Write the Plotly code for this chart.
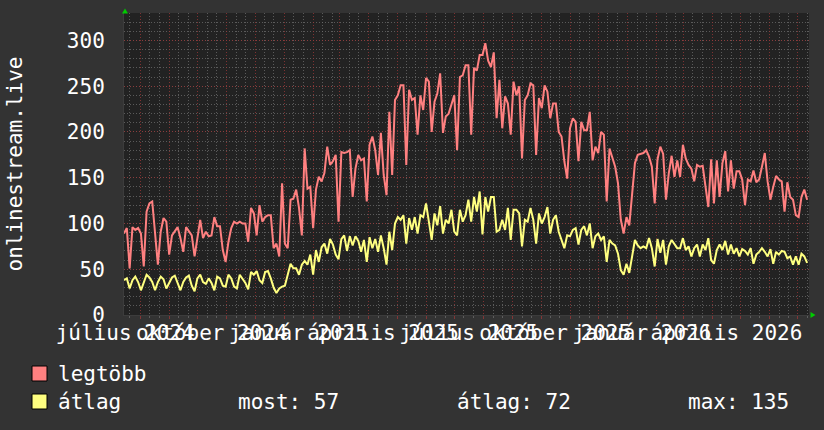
import pandas as pd
import plotly.graph_objects as go

# ---------------- data ----------------
start_date = "2024-07-14 17:00"
end_date = "2026-07-12 17:00"
step = "3D"

legtobb = [89, 95, 51, 96, 93, 95, 89, 53, 113, 122, 124, 87, 55, 91, 106, 102, 66, 87, 91, 96, 84, 69, 96, 91, 87, 64, 87, 104, 84, 91, 86,
           87, 107, 97, 97, 71, 58, 80, 95, 102, 100, 102, 100, 100, 80, 117, 111, 87, 120, 102, 107, 109, 109, 73, 78, 64, 144, 78, 73, 126, 127,
           137, 117, 87, 182, 138, 140, 95, 137, 151, 146, 155, 184, 164, 168, 175, 102, 178, 177, 178, 180, 129, 160, 175, 169, 171, 124, 186, 195, 180, 153, 199,
           153, 131, 222, 153, 235, 240, 251, 251, 164, 246, 235, 237, 197, 240, 224, 259, 255, 200, 233, 242, 264, 199, 217, 220, 230, 240, 180, 260, 262, 273,
           273, 197, 270, 267, 284, 284, 297, 278, 271, 287, 215, 257, 204, 239, 231, 197, 255, 240, 250, 171, 235, 240, 253, 251, 175, 237, 226, 251, 244, 215, 231,
           231, 200, 195, 168, 149, 204, 215, 211, 168, 211, 202, 202, 222, 169, 184, 177, 200, 197, 124, 182, 171, 162, 144, 104, 89, 107, 98, 135, 166, 175, 176,
           177, 180, 173, 162, 122, 170, 184, 176, 126, 155, 174, 151, 169, 151, 186, 171, 164, 160, 146, 164, 162, 163, 140, 118, 170, 122, 169, 129, 166, 179,
           135, 169, 138, 157, 157, 148, 120, 148, 146, 158, 145, 148, 162, 177, 146, 126, 140, 152, 148, 146, 113, 145, 129, 126, 109, 107, 129, 137, 126]

atlag = [38, 40, 29, 38, 42, 36, 27, 36, 44, 41, 36, 27, 36, 42, 39, 29, 35, 41, 43, 36, 27, 36, 41, 43, 32, 26, 40, 44, 36, 34, 40,
         35, 27, 42, 40, 32, 31, 44, 40, 31, 29, 44, 40, 35, 28, 47, 44, 48, 38, 35, 47, 48, 40, 30, 24, 29, 31, 32, 44, 56, 51,
         51, 44, 55, 59, 55, 66, 44, 71, 58, 74, 78, 67, 83, 77, 66, 61, 83, 87, 70, 86, 76, 86, 81, 69, 82, 58, 85, 73, 83, 69, 87,
         73, 55, 91, 71, 100, 107, 104, 109, 78, 106, 93, 107, 89, 109, 107, 122, 102, 82, 111, 98, 119, 89, 104, 100, 115, 91, 87, 115, 102, 109,
         126, 102, 129, 113, 135, 88, 129, 113, 129, 129, 91, 93, 104, 93, 117, 82, 115, 115, 111, 75, 104, 102, 117, 104, 78, 111, 100, 107, 118, 89, 104,
         109, 91, 82, 73, 87, 86, 93, 95, 77, 93, 97, 87, 100, 73, 86, 89, 82, 86, 58, 82, 78, 76, 67, 49, 44, 56, 46, 64, 82, 76, 73,
         75, 73, 84, 73, 53, 83, 68, 82, 55, 75, 82, 77, 73, 73, 84, 71, 75, 64, 73, 77, 64, 77, 71, 84, 60, 56, 71, 77, 71, 81,
         66, 77, 67, 73, 64, 72, 70, 66, 73, 56, 66, 69, 73, 69, 64, 72, 56, 69, 66, 70, 69, 62, 64, 55, 64, 55, 67, 64, 57]

label_dates = ["2024-07-16", "2024-10-16", "2025-01-16", "2025-04-16",
               "2025-07-16", "2025-10-16", "2026-01-16", "2026-04-16"]
label_text = ["július 2024", "október 2024", "január 2025", "április 2025",
              "július 2025", "október 2025", "január 2026", "április 2026"]
y_ticks = [0, 50, 100, 150, 200, 250, 300]
y_title = "onlinestream.live"
legend_names = ["legtöbb", "átlag"]
stats_text = ["most: 57", "átlag: 72", "max: 135"]

# ---------------- styling ----------------
FONT = "DejaVu Sans Mono"
BACK = "#333333"
CANVAS = "#222222"
GRID = "rgba(110,110,110,0.75)"
MGRID = "rgba(150,55,55,0.8)"
AXIS = "#3c3c3c"
RED = "#ff8080"
YELLOW = "#ffff80"
ARROW = "#00cc00"
W, H = 824, 430
L, R, T, B = 124, 809, 13, 315


def px(x):
    return (x - L) / (R - L)


def py(y):
    return (B - y) / (B - T)


dates = pd.date_range(start_date, periods=len(legtobb), freq=step)
month_starts = pd.date_range("2024-08-01", "2026-07-01", freq="MS")
minor_vals = []
for m in pd.date_range("2024-07-01", "2026-07-01", freq="MS"):
    for d in (10, 20):
        minor_vals.append(m + pd.Timedelta(days=d))

fig = go.Figure()
fig.add_trace(go.Scatter(x=dates, y=atlag, mode="lines", name=legend_names[1],
                         line=dict(color=YELLOW, width=2), xaxis="x", yaxis="y",
                         showlegend=False, hoverinfo="skip"))
fig.add_trace(go.Scatter(x=dates, y=legtobb, mode="lines", name=legend_names[0],
                         line=dict(color=RED, width=2), xaxis="x2", yaxis="y",
                         showlegend=False, hoverinfo="skip"))

dash = "1px,2px"
fig.update_layout(
    width=W, height=H,
    margin=dict(l=L, r=W - R, t=T, b=H - B),
    paper_bgcolor=BACK, plot_bgcolor=CANVAS,
    font=dict(family=FONT, size=21, color="white"),
    showlegend=False,
    xaxis=dict(type="date", range=[start_date, end_date],
               tickmode="array", tickvals=list(month_starts), showticklabels=False,
               showgrid=True, gridcolor=MGRID, griddash=dash, gridwidth=1,
               ticks="outside", ticklen=3, tickcolor=MGRID,
               showline=True, linecolor=AXIS, zeroline=False,
               minor=dict(tickmode="array", tickvals=minor_vals, showgrid=True,
                          gridcolor=GRID, griddash=dash, gridwidth=1,
                          ticks="outside", ticklen=2, tickcolor=GRID)),
    xaxis2=dict(type="date", range=[start_date, end_date], overlaying="x", matches="x",
                side="bottom", tickmode="array", tickvals=label_dates, ticktext=label_text,
                tickangle=0, showgrid=False, ticks="", showline=False, zeroline=False,
                ticklabelstandoff=3,
                tickfont=dict(family=FONT, size=21, color="white")),
    yaxis=dict(range=[0, 330], tickmode="array", tickvals=y_ticks,
               showgrid=True, gridcolor=MGRID, griddash=dash, gridwidth=1,
               ticks="", ticklabelstandoff=14, showline=True, linecolor=AXIS,
               zeroline=False, tickfont=dict(family=FONT, size=21, color="white"),
               minor=dict(dtick=10, showgrid=True, gridcolor=GRID, griddash=dash, gridwidth=1)),
)

# y-axis title
annos = [dict(text=y_title, textangle=-90, x=px(14.5), y=0.5, xref="paper", yref="paper",
              xanchor="center", yanchor="middle", showarrow=False,
              font=dict(family=FONT, size=21, color="white"))]
# legend texts
rows = [373.5, 401.5]
annos.append(dict(text=legend_names[0], x=px(56), y=py(rows[0])))
annos.append(dict(text=legend_names[1], x=px(56), y=py(rows[1])))
for xs, t in zip([236, 455, 686], stats_text):
    annos.append(dict(text=t, x=px(xs), y=py(rows[1])))
for a in annos[1:]:
    a.update(xref="paper", yref="paper", xanchor="left", yanchor="middle", showarrow=False,
             font=dict(family=FONT, size=21, color="white"))
fig.update_layout(annotations=annos)

shapes = []
for (y0, y1), c in zip([(366, 381), (394, 409)], [RED, YELLOW]):
    shapes.append(dict(type="rect", xref="paper", yref="paper",
                       x0=px(32), x1=px(47), y0=py(y1), y1=py(y0),
                       fillcolor=c, line=dict(color="black", width=1)))
# axis arrows
up = [(122, 13.5), (128, 13.5), (125, 8.5)]
right = [(810.5, 312), (810.5, 318), (815.5, 315)]
for tri in (up, right):
    p = "M " + " L ".join(f"{px(a)},{py(b)}" for a, b in tri) + " Z"
    shapes.append(dict(type="path", xref="paper", yref="paper", path=p,
                       fillcolor=ARROW, line=dict(color=ARROW, width=0)))
fig.update_layout(shapes=shapes)

fig.write_html("out.html")
